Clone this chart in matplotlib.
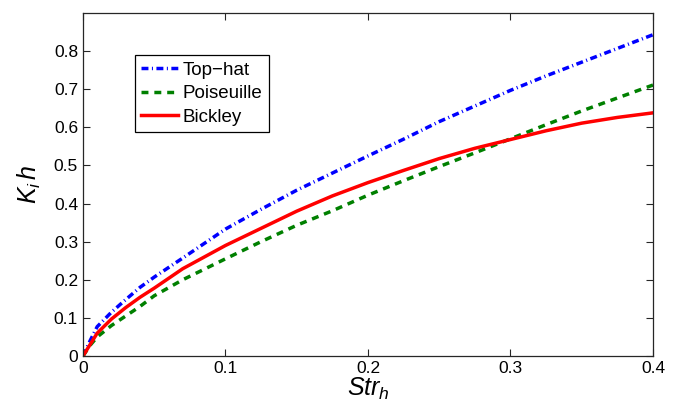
import matplotlib
matplotlib.use('Agg')
import matplotlib.pyplot as plt

plt.rcParams['font.family'] = ['Liberation Sans', 'DejaVu Sans']
plt.rcParams['mathtext.fontset'] = 'custom'
plt.rcParams['mathtext.it'] = 'Liberation Sans:italic'
plt.rcParams['mathtext.rm'] = 'Liberation Sans'

# data
str_h = [0, 0.005, 0.01, 0.02, 0.03, 0.04, 0.05, 0.07, 0.1, 0.125, 0.15,
         0.175, 0.2, 0.225, 0.25, 0.275, 0.3, 0.325, 0.35, 0.375, 0.4]
top_hat = [0, 0.040, 0.077, 0.115, 0.148, 0.180, 0.207, 0.257, 0.333, 0.385, 0.435,
           0.480, 0.525, 0.569, 0.615, 0.656, 0.697, 0.735, 0.771, 0.807, 0.843]
poiseuille = [0, 0.028, 0.050, 0.080, 0.105, 0.130, 0.158, 0.200, 0.255, 0.300, 0.343,
              0.381, 0.422, 0.460, 0.497, 0.533, 0.570, 0.607, 0.643, 0.677, 0.711]
bickley = [0, 0.030, 0.060, 0.097, 0.127, 0.154, 0.178, 0.229, 0.290, 0.335, 0.380,
           0.420, 0.455, 0.487, 0.518, 0.545, 0.568, 0.591, 0.611, 0.626, 0.638]

fig = plt.figure(figsize=(6.79, 4.09), dpi=100)
ax = fig.add_axes([0.1222, 0.1296, 0.8395, 0.8386])

ax.plot(str_h, top_hat, color='#0000ff', linewidth=2.5, label='Top\u2212hat',
        dashes=(2.0, 1.0, 0.3, 1.0))
ax.plot(str_h, poiseuille, color='#008000', linewidth=2.5, label='Poiseuille',
        dashes=(2.0, 1.7))
ax.plot(str_h, bickley, color='#ff0000', linestyle='-', linewidth=2.5, label='Bickley')

ax.set_xlim(0, 0.4)
ax.set_ylim(0, 0.9)
ax.set_xticks([0, 0.1, 0.2, 0.3, 0.4])
ax.set_xticklabels(['0', '0.1', '0.2', '0.3', '0.4'])
ax.set_yticks([0, 0.1, 0.2, 0.3, 0.4, 0.5, 0.6, 0.7, 0.8])
ax.set_yticklabels(['0', '0.1', '0.2', '0.3', '0.4', '0.5', '0.6', '0.7', '0.8'])
ax.tick_params(direction='in', top=True, right=True, length=5, width=0.8,
               labelsize=12.5, colors='#262626', labelcolor='black')
for sp in ax.spines.values():
    sp.set_color('#262626')
    sp.set_linewidth(0.9)

ax.set_xlabel(r'$Str_h$', fontsize=18, labelpad=0)
ax.set_ylabel(r'$K_i\,h$', fontsize=18, labelpad=8)

leg = ax.legend(loc='upper left', bbox_to_anchor=(0.091, 0.878), borderaxespad=0,
                fontsize=13.5, handlelength=1.95, handletextpad=0.25,
                labelspacing=0.35, fancybox=False, framealpha=1,
                edgecolor='black', borderpad=0.35)
leg.get_frame().set_linewidth(0.9)

fig.savefig('out.png', dpi=100)
